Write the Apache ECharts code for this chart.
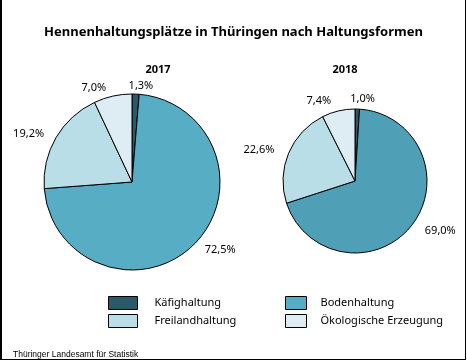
<!DOCTYPE html>
<html>
<head>
<meta charset="utf-8">
<script src="https://cdn.jsdelivr.net/npm/echarts@6/dist/echarts.min.js"></script>
<style>
html,body{margin:0;padding:0;background:#fff;}
#c{width:467px;height:361px;}
</style>
</head>
<body>
<div id="c"></div>
<script>
const categories = ['Käfighaltung', 'Bodenhaltung', 'Freilandhaltung', 'Ökologische Erzeugung'];
const values2017 = [1.3, 72.5, 19.2, 7.0];
const values2018 = [1.0, 69.0, 22.6, 7.4];
const years = ['2017', '2018'];
const colors2017 = ['#2b5967', '#56adc4', '#b9dee7', '#ddedf3'];
const colors2018 = ['#2b5967', '#4f9fb7', '#b9dee7', '#ddedf3'];

const fmt = v => v.toFixed(1).replace('.', ',') + '%';

function mkData(vals, cols) {
  return categories.map((c, i) => ({ name: c, value: vals[i], itemStyle: { color: cols[i] } }));
}

function pie(vals, cols, center, radius, len) {
  return {
    type: 'pie',
    center: center,
    radius: radius,
    startAngle: 90,
    clockwise: true,
    avoidLabelOverlap: false,
    animation: false,
    silent: true,
    data: mkData(vals, cols),
    itemStyle: { borderColor: '#000', borderWidth: 1 },
    label: {
      show: true,
      position: 'outside',
      formatter: p => fmt(p.value),
      fontFamily: 'Noto Sans',
      fontSize: 11,
      color: '#000'
    },
    labelLine: { show: false, length: len, length2: 0 },
    labelLayout: p => (p.dataIndex === 0 ? { align: 'center' } : {}),
    emphasis: { disabled: true }
  };
}

const chart = echarts.init(document.getElementById('c'), null, { renderer: 'canvas' });
const legendText = { fontFamily: 'Noto Sans', fontSize: 11, lineHeight: 13, color: '#000' };
chart.setOption({
  backgroundColor: '#fff',
  animation: false,
  title: [
    { text: 'Hennenhaltungsplätze in Thüringen nach Haltungsformen', left: 'center', top: 21,
      textStyle: { fontFamily: 'Noto Sans', fontWeight: 'bold', fontSize: 13, color: '#000' } },
    { text: years[0], left: 153, top: 59, textAlign: 'center',
      textStyle: { fontFamily: 'Noto Sans', fontWeight: 'bold', fontSize: 11, color: '#000' } },
    { text: years[1], left: 340, top: 59, textAlign: 'center',
      textStyle: { fontFamily: 'Noto Sans', fontWeight: 'bold', fontSize: 11, color: '#000' } },
    { text: 'Thüringer Landesamt für Statistik', left: 8, top: 345,
      textStyle: { fontFamily: 'Liberation Sans', fontWeight: 'normal', fontSize: 8.5, color: '#000' } }
  ],
  legend: [
    { data: [categories[0], categories[2]], orient: 'vertical', left: 108, top: 296, padding: 0,
      itemWidth: 29, itemHeight: 13, itemGap: 4, selectedMode: false, icon: 'rect',
      itemStyle: { borderColor: '#000', borderWidth: 1 },
      textStyle: Object.assign({ padding: [0, 0, 0, 12] }, legendText) },
    { data: [categories[1], categories[3]], orient: 'vertical', left: 285, top: 296, padding: 0,
      itemWidth: 21, itemHeight: 13, itemGap: 4, selectedMode: false, icon: 'rect',
      itemStyle: { borderColor: '#000', borderWidth: 1 },
      textStyle: Object.assign({ padding: [0, 0, 0, 9] }, legendText) }
  ],
  series: [
    pie(values2017, colors2017, [132, 182], 88, 8),
    pie(values2018, colors2018, [355, 181], 72, 10)
  ],
  graphic: [
    { type: 'line', shape: { x1: 1, y1: 0, x2: 1, y2: 360 }, style: { stroke: '#000', lineWidth: 2 } },
    { type: 'line', shape: { x1: 465.5, y1: 0, x2: 465.5, y2: 360 }, style: { stroke: '#000', lineWidth: 1 } },
    { type: 'line', shape: { x1: 0, y1: 359.5, x2: 466, y2: 359.5 }, style: { stroke: '#000', lineWidth: 1 } }
  ]
});
</script>
</body>
</html>
